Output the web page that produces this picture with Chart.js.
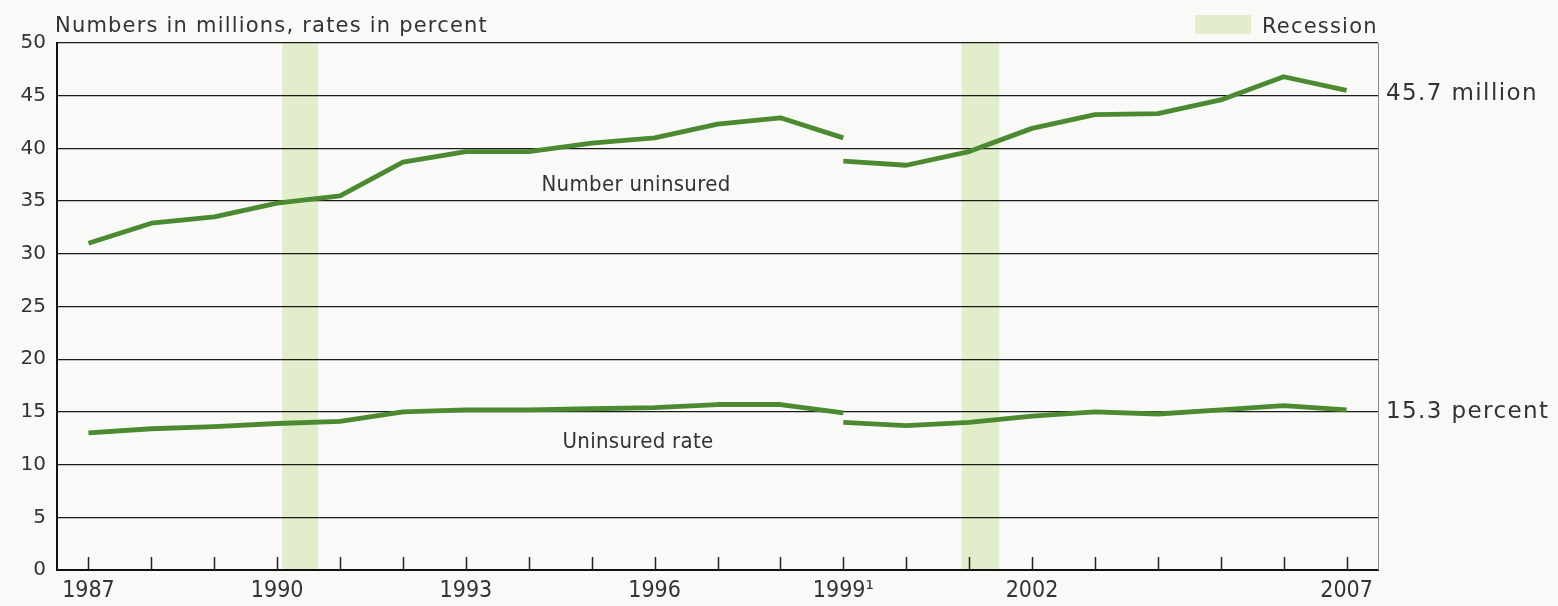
<!DOCTYPE html>
<html>
<head>
<meta charset="utf-8">
<script src="https://cdn.jsdelivr.net/npm/chart.js@4.4.1/dist/chart.umd.min.js"></script>
<style>
  html, body { margin: 0; padding: 0; background: #f9f9f7; }
  #wrap { width: 1558px; height: 606px; }
</style>
</head>
<body>
<div id="wrap"><canvas id="chart"></canvas></div>
<script>
// data
var yearsOld = [1987, 1988, 1989, 1990, 1991, 1992, 1993, 1994, 1995, 1996, 1997, 1998, 1999];
var yearsNew = [1999, 2000, 2001, 2002, 2003, 2004, 2005, 2006, 2007];
var numberOld = [31.0, 32.9, 33.5, 34.8, 35.5, 38.7, 39.7, 39.7, 40.5, 41.0, 42.3, 42.9, 41.0];
var numberNew = [38.8, 38.4, 39.7, 41.9, 43.2, 43.3, 44.6, 46.8, 45.5];
var rateOld = [13.0, 13.4, 13.6, 13.9, 14.1, 15.0, 15.2, 15.2, 15.3, 15.4, 15.7, 15.7, 14.9];
var rateNew = [14.0, 13.7, 14.0, 14.6, 15.0, 14.8, 15.2, 15.6, 15.2];

var recessionStart = [1990.08, 2000.88];
var recessionEnd = [1990.65, 2001.48];

var tickYears = [1987, 1988, 1989, 1990, 1991, 1992, 1993, 1994, 1995, 1996, 1997,
                 1998, 1999, 2000, 2001, 2002, 2003, 2004, 2005, 2006, 2007];
var labelYears = [1987, 1990, 1993, 1996, 1999, 2002, 2007];
var labelTexts = ["1987", "1990", "1993", "1996", "1999\u00B9", "2002", "2007"];

var lineGreen = "#4b8a31";
var bandGreen = "#e2eecb";
var textColor = "#333333";

function toPoints(xs, ys) {
    return xs.map(function (x, i) { return { x: x, y: ys[i] }; });
}

function lineSet(label, xs, ys) {
    return {
        label: label,
        data: toPoints(xs, ys),
        borderColor: lineGreen,
        borderWidth: 4.8,
        borderCapStyle: "butt",
        borderJoinStyle: "round",
        pointRadius: 0,
        tension: 0,
        fill: false
    };
}

// background, recession bands, inside tick marks and all the loose text
var decor = {
    id: "decor",
    beforeDraw: function (chart) {
        let ctx = chart.ctx;
        let area = chart.chartArea;
        let x = chart.scales.x;
        ctx.save();
        ctx.fillStyle = "#f9f9f7";
        ctx.fillRect(0, 0, chart.width, chart.height);
        ctx.fillStyle = bandGreen;
        recessionStart.forEach(function (s, i) {
            let x0 = x.getPixelForValue(s);
            let x1 = x.getPixelForValue(recessionEnd[i]);
            ctx.fillRect(x0, area.top, x1 - x0, area.bottom - area.top);
        });
        ctx.restore();
    },
    afterDraw: function (chart) {
        let ctx = chart.ctx;
        let area = chart.chartArea;
        let x = chart.scales.x;
        let y = chart.scales.y;
        ctx.save();

        // right border
        ctx.strokeStyle = "#8a8a8a";
        ctx.lineWidth = 1;
        ctx.beginPath();
        ctx.moveTo(area.right + 0.5, area.top);
        ctx.lineTo(area.right + 0.5, area.bottom);
        ctx.stroke();

        // tick marks pointing up into the plot
        ctx.strokeStyle = "#222";
        ctx.lineWidth = 1.5;
        tickYears.forEach(function (yr) {
            let px = Math.round(x.getPixelForValue(yr)) + 0.5;
            ctx.beginPath();
            ctx.moveTo(px, area.bottom);
            ctx.lineTo(px, area.bottom - 13);
            ctx.stroke();
        });

        ctx.fillStyle = textColor;
        ctx.textBaseline = "alphabetic";
        ctx.textAlign = "left";
        ctx.font = "21px 'DejaVu Sans'";
        ctx.letterSpacing = "1.2px";
        ctx.fillText("Numbers in millions, rates in percent", 55, 32);

        // legend
        ctx.fillStyle = bandGreen;
        ctx.fillRect(1195, 15, 56, 19);
        ctx.fillStyle = textColor;
        ctx.fillText("Recession", 1262, 33);

        // end labels
        ctx.font = "23px 'DejaVu Sans'";
        ctx.letterSpacing = "1.4px";
        ctx.textBaseline = "middle";
        ctx.fillText("45.7 million", 1386, y.getPixelForValue(45.2));
        ctx.fillText("15.3 percent", 1386, y.getPixelForValue(15.0));

        // series labels
        ctx.letterSpacing = "0.3px";
        ctx.textAlign = "center";
        ctx.font = "22px 'Liberation Sans Narrow', 'DejaVu Sans Condensed', sans-serif";
        ctx.fillText("Number uninsured", 636, 185);
        ctx.fillText("Uninsured rate", 638, 442);
        ctx.restore();
    }
};

var ctx = document.getElementById("chart");
new Chart(ctx, {
    type: "line",
    data: {
        datasets: [
            lineSet("Number uninsured", yearsOld, numberOld),
            lineSet("Number uninsured (revised)", yearsNew, numberNew),
            lineSet("Uninsured rate", yearsOld, rateOld),
            lineSet("Uninsured rate (revised)", yearsNew, rateNew)
        ]
    },
    options: {
        responsive: true,
        maintainAspectRatio: false,
        animation: false,
        layout: { padding: { top: 43, right: 180, left: 0, bottom: 0 } },
        plugins: {
            legend: { display: false },
            tooltip: { enabled: false }
        },
        scales: {
            x: {
                type: "linear",
                min: 1986.5,
                max: 2007.5,
                afterBuildTicks: function (scale) {
                    scale.ticks = tickYears.map(function (v) { return { value: v }; });
                },
                afterFit: function (scale) { scale.height = 36; },
                grid: { display: false, drawTicks: false },
                border: { display: true, color: "#111", width: 2 },
                ticks: {
                    autoSkip: false,
                    maxRotation: 0,
                    padding: 7,
                    color: textColor,
                    font: { family: "'Liberation Sans Narrow', 'DejaVu Sans Condensed', sans-serif", size: 23 },
                    callback: function (value) {
                        let i = labelYears.indexOf(value);
                        return i >= 0 ? labelTexts[i] : "";
                    }
                }
            },
            y: {
                min: 0,
                max: 50,
                afterFit: function (scale) { scale.width = 57; },
                grid: { color: "#1a1a1a", lineWidth: 1.3, drawTicks: false },
                border: { display: true, color: "#111", width: 2 },
                ticks: {
                    stepSize: 5,
                    padding: 11,
                    color: textColor,
                    font: { family: "'DejaVu Sans'", size: 20 }
                }
            }
        }
    },
    plugins: [decor]
});
</script>
</body>
</html>
